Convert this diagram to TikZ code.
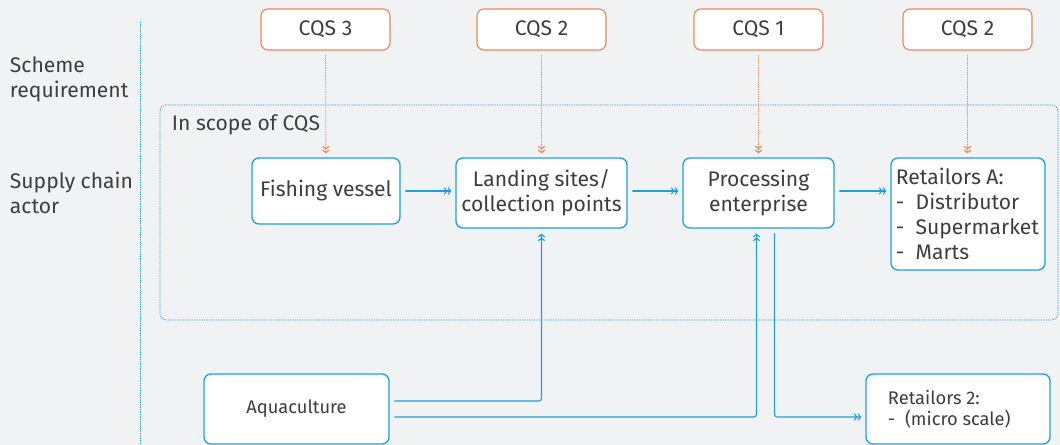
\documentclass[tikz,border=0pt]{standalone}
\usepackage{fontspec}
\setmainfont{Fira Sans}
\usetikzlibrary{arrows.meta}
\definecolor{cqsblue}{HTML}{1BA1E2}
\definecolor{cqsorange}{HTML}{F0875C}
\definecolor{bggray}{HTML}{F1F2F4}
\definecolor{txtgray}{HTML}{3E3E3E}

\begin{document}
\begin{tikzpicture}[line cap=round,line join=round,x=0.025cm,y=-0.025cm,
  Chev/.tip={Straight Barb[length=1.8pt,width=4.6pt,line width=0.8pt]Straight Barb[length=1.8pt,width=4.6pt,line width=0.8pt]},
  bigtext/.style={font=\fontsize{15}{17.9}\selectfont,text=txtgray},
  smalltext/.style={font=\fontsize{13}{14.8}\selectfont,text=txtgray},
  actor/.style={draw=cqsblue,fill=white,rounded corners=5pt,line width=0.95pt,inner sep=0pt,bigtext,align=center},
  cqs/.style={draw=cqsorange,fill=white,rounded corners=5pt,line width=0.8pt,inner sep=0pt,bigtext,
    minimum width=3.225cm,minimum height=1.025cm},
  flow/.style={draw=cqsblue,line width=0.8pt,-Chev,rounded corners=2pt},
  req/.style={draw=cqsorange,line width=0.6pt,dash pattern=on 0.5pt off 1.2pt,-Chev,shorten <=0.125cm,shorten >=0.1cm}]
\fill [bggray] (0,0) rectangle (1060,445);
\useasboundingbox (0,0) rectangle (1060,445);
\draw [cqsblue,line width=0.6pt,dash pattern=on 0.5pt off 1.2pt] (140,22) -- (140,445);
\draw [cqsblue,line width=0.6pt,dash pattern=on 0.5pt off 1.2pt,rounded corners=4pt] (160,105) rectangle (1058,320);
\node [bigtext,anchor=base west] (scope) at (167,131) {In scope of CQS};
\node [bigtext,align=left,anchor=west] (scheme) at (5,79) {Scheme\\requirement};
\node [bigtext,align=left,anchor=west] (supply) at (5,193) {Supply chain\\actor};

\node [cqs] (cqs3) at (325.5,29.5) {CQS 3};
\node [cqs] (cqs2a) at (541.5,29.5) {CQS 2};
\node [cqs] (cqs1) at (758.5,29.5) {CQS 1};
\node [cqs] (cqs2b) at (967.5,29.5) {CQS 2};

\node [actor,minimum width=3.7cm,minimum height=1.65cm] (fish) at (326,191) {Fishing vessel};
\node [actor,minimum width=4.275cm,minimum height=1.75cm] (land) at (541.5,193) {Landing sites/\\collection points};
\node [actor,minimum width=3.775cm,minimum height=1.75cm] (proc) at (758.5,193) {Processing\\enterprise};
\node [actor,minimum width=3.85cm,minimum height=2.8cm,align=left] (retA) at (968,214)
  {\makebox[3.6cm][l]{Retailors A:}\\-\ \ Distributor\\-\ \ Supermarket\\-\ \ Marts};
\node [actor,smalltext,minimum width=4.625cm,minimum height=1.75cm] (aqua) at (296.5,409) {Aquaculture};
\node [actor,smalltext,minimum width=4.6cm,minimum height=1.75cm,align=left] (ret2) at (958,409)
  {\makebox[3.5cm][l]{Retailors 2:}\\-\ \ (micro scale)};

\draw [req] (cqs3) -- (fish);
\draw [req] (cqs2a) -- (land);
\draw [req] (cqs1) -- (proc);
\draw [req] (cqs2b.south) -- (cqs2b.south |- retA.north);

\draw [flow,shorten <=0.125cm,shorten >=0.1cm] (fish.east) -- (land.west |- fish.east);
\draw [flow,shorten <=0.125cm,shorten >=0.1cm] (land.east |- fish.east) -- (proc.west |- fish.east);
\draw [flow,shorten <=0.125cm,shorten >=0.1cm] (proc.east |- fish.east) -- (retA.west |- fish.east);
\draw [flow,shorten <=0.125cm,shorten >=0.125cm] ([yshift=0.2cm]aqua.east) -| (land.south);
\draw [flow,shorten <=0.125cm,shorten >=0.125cm] ([yshift=-0.2cm]aqua.east) -| ([xshift=-0.05cm]proc.south);
\draw [flow,shorten <=0.125cm,shorten >=0.1cm] ([xshift=0.4cm]proc.south) |- ([yshift=-0.2cm]ret2.west);
\end{tikzpicture}
\end{document}
